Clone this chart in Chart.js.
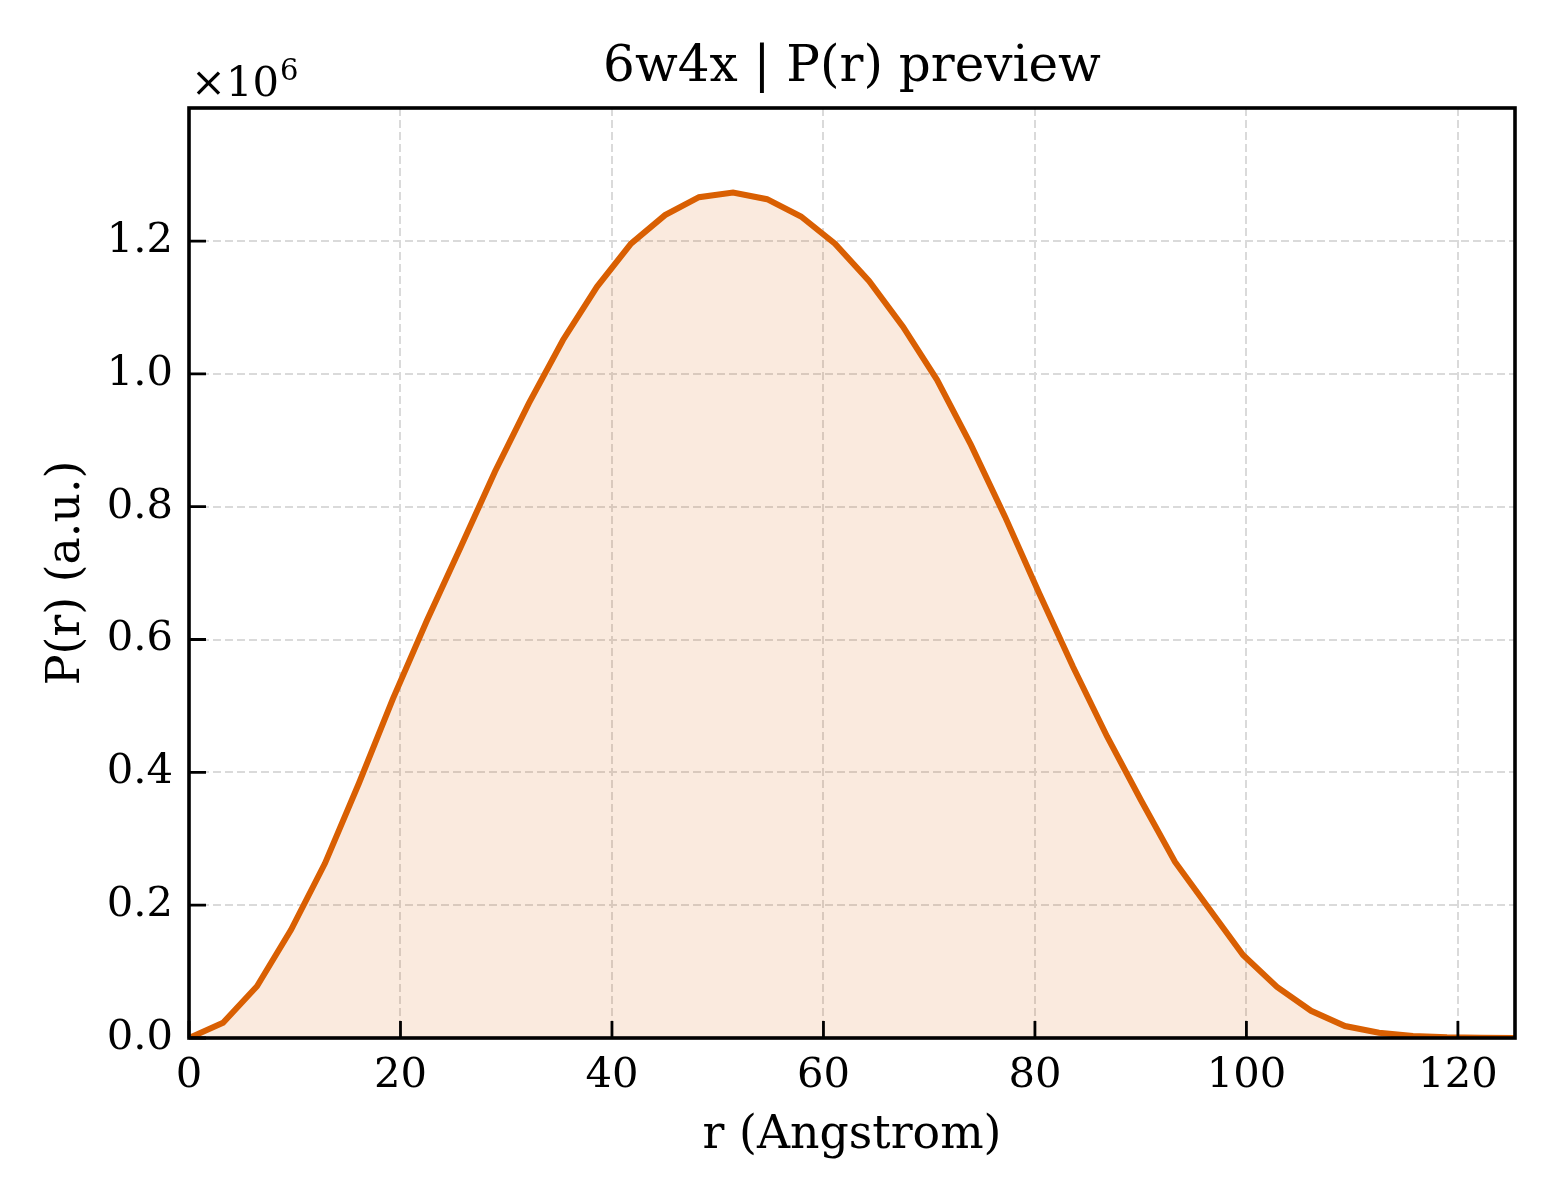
<!DOCTYPE html>
<html>
<head>
<meta charset="utf-8">
<script src="https://cdn.jsdelivr.net/npm/chart.js@4/dist/chart.umd.min.js"></script>
<style>
  html, body { margin: 0; padding: 0; background: #fff; }
  #wrap { width: 1560px; height: 1200px; }
</style>
</head>
<body>
<div id="wrap"><canvas id="prChart" width="1560" height="1200"></canvas></div>
<script>
'use strict';

// r in Angstrom, P(r) in units of 1e6
const rValues = [0, 3.22, 6.43, 9.65, 12.86, 16.08, 19.29, 22.51, 25.72, 28.94,
  32.15, 35.37, 38.58, 41.80, 45.02, 48.23, 51.45, 54.66, 57.88, 61.09,
  64.31, 67.52, 70.74, 73.95, 77.17, 80.39, 83.60, 86.82, 90.03, 93.25,
  96.46, 99.68, 102.89, 106.11, 109.32, 112.54, 115.75, 118.97, 122.19, 125.40];
const prValues = [0, 0.023, 0.078, 0.163, 0.263, 0.384, 0.511, 0.629, 0.740, 0.853,
  0.956, 1.051, 1.131, 1.196, 1.239, 1.266, 1.273, 1.263, 1.237, 1.196,
  1.140, 1.071, 0.991, 0.893, 0.785, 0.670, 0.559, 0.454, 0.358, 0.265,
  0.195, 0.125, 0.077, 0.041, 0.018, 0.008, 0.003, 0.001, 0.0005, 0];
const xTicks = [0, 20, 40, 60, 80, 100, 120];
const yTicks = [0, 0.2, 0.4, 0.6, 0.8, 1.0, 1.2];

const titleText = '6w4x | P(r) preview';
const xLabel = 'r (Angstrom)';
const yLabel = 'P(r) (a.u.)';

const SERIF = "'DejaVu Serif', serif";
const LINE_COLOR = '#d95f02';

function keepTicks(wanted) {
  return function (scale) {
    scale.ticks = wanted.map(v => ({value: v}));
  };
}

// matplotlib-ish frame with inward ticks, title over the axes and the x10^6 offset text
const frameAndTicks = {
  id: 'frameAndTicks',
  afterDraw(chart) {
    let ctx = chart.ctx,
      a = chart.chartArea,
      x = chart.scales.x,
      y = chart.scales.y;

    ctx.save();
    ctx.strokeStyle = '#000';
    ctx.lineWidth = 2.8;
    ctx.beginPath();
    x.ticks.forEach(t => {
      let px = x.getPixelForValue(t.value);
      ctx.moveTo(px, a.bottom);
      ctx.lineTo(px, a.bottom - 17);
    });
    y.ticks.forEach(t => {
      let py = y.getPixelForValue(t.value);
      ctx.moveTo(a.left, py);
      ctx.lineTo(a.left + 17, py);
    });
    ctx.stroke();

    ctx.lineWidth = 3.6;
    ctx.strokeRect(a.left, a.top, a.right - a.left, a.bottom - a.top);

    ctx.fillStyle = '#000';
    ctx.textAlign = 'center';
    ctx.textBaseline = 'middle';
    ctx.font = '50px ' + SERIF;
    ctx.fillText(titleText, (a.left + a.right) / 2, 68);

    ctx.textBaseline = 'alphabetic';
    ctx.textAlign = 'left';
    ctx.font = '41.7px ' + SERIF;
    let base = '\u00d710';
    ctx.fillText(base, a.left + 2, 96);
    let w = ctx.measureText(base).width;
    ctx.font = '29px ' + SERIF;
    ctx.fillText('6', a.left + 2 + w + 1, 80);
    ctx.restore();
  }
};

function buildPrChart() {
  let ctx = document.getElementById('prChart');

  new Chart(ctx, {
    type: 'line',
    data: {
      datasets: [{
        data: rValues.map((r, i) => ({x: r, y: prValues[i]})),
        borderColor: LINE_COLOR,
        borderWidth: 6,
        backgroundColor: 'rgba(217, 95, 2, 0.13)',
        fill: 'origin',
        pointRadius: 0,
        tension: 0
      }]
    },
    options: {
      responsive: false,
      animation: false,
      devicePixelRatio: 1,
      layout: {
        padding: {left: 0, right: 45, top: 108, bottom: 0}
      },
      plugins: {
        legend: {display: false},
        tooltip: {enabled: false},
        title: {display: false}
      },
      scales: {
        x: {
          type: 'linear',
          min: 0,
          max: 125.4,
          afterBuildTicks: keepTicks(xTicks),
          afterFit: scale => { scale.height = 162; },
          grid: {color: '#dadada', lineWidth: 2, drawTicks: false},
          border: {display: false, dash: [8, 4]},
          ticks: {
            color: '#000',
            padding: 13,
            font: {family: SERIF, size: 41.7},
            callback: v => String(Math.round(v))
          },
          title: {
            display: true,
            text: xLabel,
            color: '#000',
            font: {family: SERIF, size: 45.8},
            padding: {top: 0, bottom: 36}
          }
        },
        y: {
          type: 'linear',
          min: 0,
          max: 1.4003,
          afterBuildTicks: keepTicks(yTicks),
          afterFit: scale => { scale.width = 189; },
          grid: {color: '#dadada', lineWidth: 2, drawTicks: false},
          border: {display: false, dash: [8, 4]},
          ticks: {
            color: '#000',
            padding: 16,
            font: {family: SERIF, size: 41.7},
            callback: v => v.toFixed(1)
          },
          title: {
            display: true,
            text: yLabel,
            color: '#000',
            font: {family: SERIF, size: 45.8},
            padding: {top: 40, bottom: 0}
          }
        }
      }
    },
    plugins: [frameAndTicks]
  });
}

buildPrChart();
</script>
</body>
</html>
